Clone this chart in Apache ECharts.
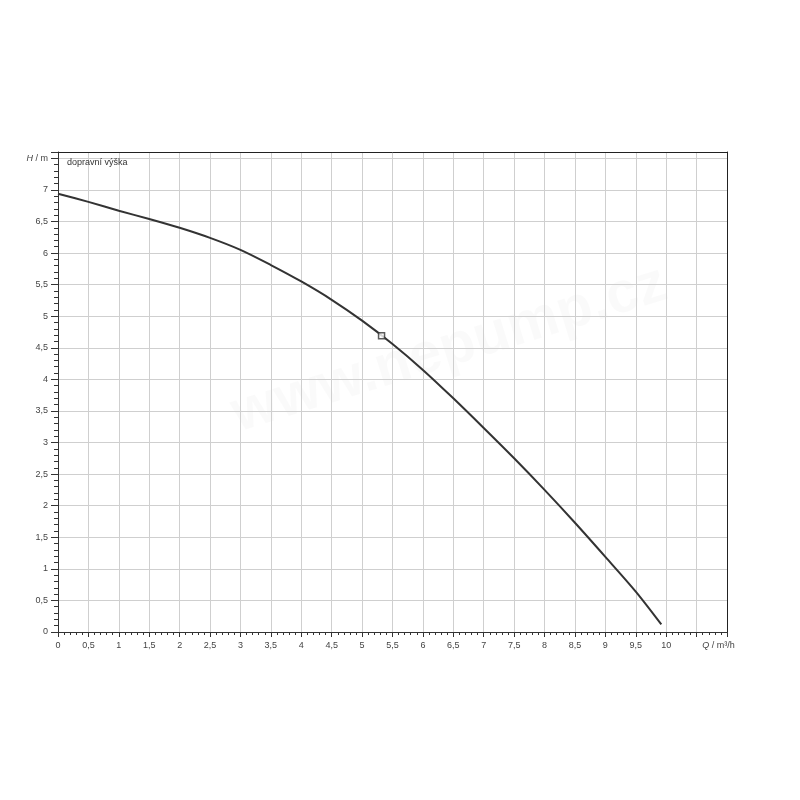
<!DOCTYPE html>
<html>
<head>
<meta charset="utf-8">
<script src="https://cdn.jsdelivr.net/npm/echarts@6/dist/echarts.min.js"></script>
<style>html,body{margin:0;padding:0;background:#fff}#c{width:800px;height:800px}</style>
</head>
<body>
<div id="c"></div>
<script>
// Q (m³/h) and H (m)
const flowQ = [0, 0.5, 1, 1.5, 2, 2.5, 3, 3.5, 4, 4.5, 5, 5.5, 6, 6.5, 7, 7.5, 8, 8.5, 9, 9.5, 9.92];
const headH = [6.94, 6.81, 6.67, 6.54, 6.40, 6.24, 6.05, 5.81, 5.55, 5.26, 4.93, 4.56, 4.15, 3.70, 3.23, 2.75, 2.25, 1.73, 1.19, 0.64, 0.12];
const dutyPoint = [5.32, 4.69];
const seriesName = 'dopravní výška';
const xAxisTitle = 'Q';
const xAxisUnit = ' / m³/h';
const yAxisTitle = 'H';
const yAxisUnit = ' / m';
const watermark = 'www.nepump.cz';

const curve = flowQ.map((q, i) => [q, headH[i]]);
const fmtNum = v => String(Math.round(v * 10) / 10).replace('.', ',');

const chart = echarts.init(document.getElementById('c'));
chart.setOption({
  animation: false,
  backgroundColor: '#fff',
  textStyle: { fontFamily: 'Liberation Sans, Arial, sans-serif' },
  title: {
    text: seriesName,
    left: 62, top: 153,
    textStyle: { fontSize: 9, fontWeight: 'normal', color: '#333' }
  },
  graphic: [{
    type: 'text', left: 225, top: 255, rotation: 0.3, z: -1,
    style: { text: watermark, fill: 'rgba(0,0,0,0.018)', font: 'bold 58px Liberation Sans' }
  }],
  grid: {
    left: 58, right: 73, top: 152, bottom: 168
  },
  xAxis: [{
    type: 'value', min: 0, max: 11, interval: 0.5,
    axisLine: { lineStyle: { color: '#333', width: 1 } },
    axisTick: { show: true, length: 5, lineStyle: { color: '#333' } },
    minorTick: { show: true, splitNumber: 5, length: 3, lineStyle: { color: '#333' } },
    splitLine: { show: true, lineStyle: { color: '#cfcfcf', width: 1 } },
    axisLabel: {
      fontSize: 9, color: '#444', margin: 9,
      formatter: v => {
        if (Math.abs(v - 10.5) < 1e-6) return '{pad|}{i|' + xAxisTitle + '}{n|' + xAxisUnit + '}';
        if (v > 10.01) return '';
        return fmtNum(v);
      },
      rich: {
        pad: { width: 44 },
        i: { fontStyle: 'italic', fontSize: 9, color: '#444' },
        n: { fontSize: 9, color: '#444' }
      }
    }
  }, {
    type: 'value', min: 0, max: 11, position: 'top',
    axisLine: { show: true, onZero: false, lineStyle: { color: '#222', width: 1 } },
    axisTick: { show: false }, axisLabel: { show: false }, splitLine: { show: false }
  }],
  yAxis: [{
    type: 'value', min: 0, max: 7.6, interval: 0.5,
    axisLine: { show: true, lineStyle: { color: '#333', width: 1 } },
    axisTick: { show: true, length: 7, lineStyle: { color: '#333' } },
    minorTick: { show: true, splitNumber: 5, length: 4, lineStyle: { color: '#333' } },
    splitLine: { show: true, lineStyle: { color: '#cfcfcf', width: 1 } },
    axisLabel: {
      fontSize: 9, color: '#444', margin: 10,
      formatter: v => {
        if (Math.abs(v - 7.5) < 1e-6) return '{i|' + yAxisTitle + '}{n|' + yAxisUnit + '}';
        if (v > 7.51) return '';
        return fmtNum(v);
      },
      rich: {
        i: { fontStyle: 'italic', fontSize: 9, color: '#444' },
        n: { fontSize: 9, color: '#444' }
      }
    }
  }, {
    type: 'value', min: 0, max: 7.6, position: 'right',
    axisLine: { show: true, onZero: false, lineStyle: { color: '#222', width: 1 } },
    axisTick: { show: false }, axisLabel: { show: false }, splitLine: { show: false }
  }],
  series: [{
    name: seriesName,
    type: 'line',
    data: curve,
    smooth: 0.3,
    showSymbol: false,
    lineStyle: { color: '#333', width: 2 },
    z: 3
  }, {
    type: 'scatter',
    data: [dutyPoint],
    symbol: 'rect',
    symbolSize: 6,
    itemStyle: { color: '#fff', borderColor: '#333', borderWidth: 1.5 },
    z: 4
  }]
});
</script>
</body>
</html>
